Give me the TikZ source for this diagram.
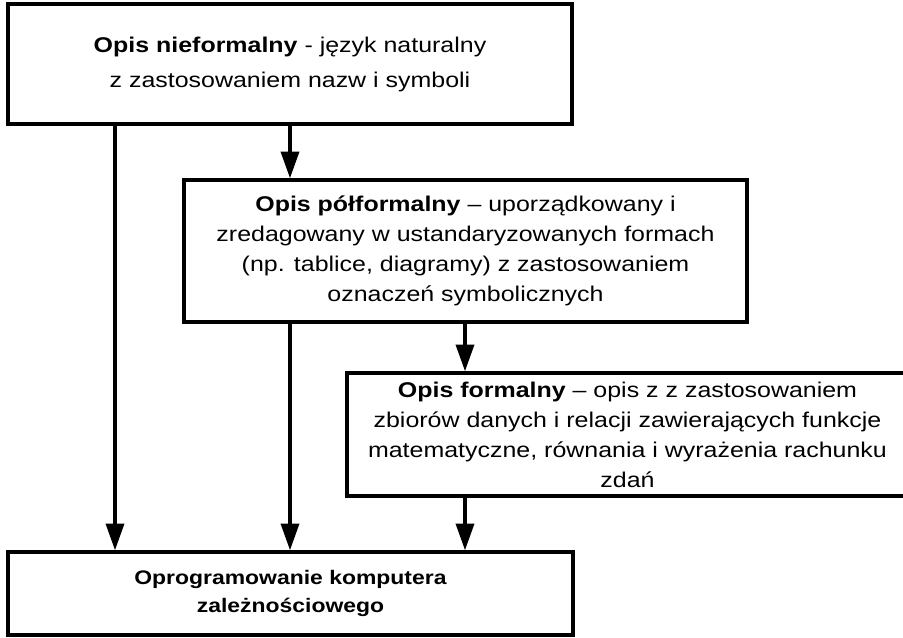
\documentclass[tikz,border=0pt]{standalone}
\usepackage{fontspec}
\setmainfont{Liberation Sans}[FakeStretch=1.17]
\usetikzlibrary{arrows.meta}
\tikzset{
  box/.style={draw=black, line width=2.6pt, fill=white, inner sep=0pt, align=center},
  arr/.style={line width=2.6pt, -{Triangle[length=20pt,width=13.5pt]}},
  tA/.style={font=\fontsize{16pt}{26.25pt}\selectfont},
  tB/.style={font=\fontsize{16pt}{22.5pt}\selectfont},
  tC/.style={font=\fontsize{14.7pt}{21pt}\selectfont}
}
\begin{document}
\begin{tikzpicture}[x=0.75pt,y=-0.75pt]
\path[use as bounding box] (0,0) rectangle (903,637);
\clip (0,0) rectangle (903,637);
\fill[white] (0,0) rectangle (903,637);
\node[box, tA, minimum width=564*0.75pt, minimum height=120*0.75pt] (box1) at (290,64)
  {\textbf{Opis nieformalny} - język naturalny\\z zastosowaniem nazw i symboli};
\node[box, tB, minimum width=563*0.75pt, minimum height=142*0.75pt] (box2) at (465.5,251)
  {\textbf{Opis półformalny} – uporządkowany i\\zredagowany w ustandaryzowanych formach\\(np. tablice, diagramy) z zastosowaniem\\oznaczeń symbolicznych};
\node[box, tB, minimum width=561*0.75pt, minimum height=123*0.75pt] (box3) at (627.5,434.5)
  {\textbf{Opis formalny} – opis z z zastosowaniem\\zbiorów danych i relacji zawierających funkcje\\matematyczne, równania i wyrażenia rachunku\\zdań};
\node[box, tC, minimum width=565*0.75pt, minimum height=83*0.75pt] (box4) at (290.5,593.5)
  {\textbf{Oprogramowanie komputera}\\\textbf{zależnościowego}};
\coordinate (xA) at (115,0);
\coordinate (xB) at (290,0);
\coordinate (xC) at (465,0);
\draw[arr] (box1.south -| xA) -- (box4.north -| xA);
\draw[arr] (box1.south -| xB) -- (box2.north -| xB);
\draw[arr] (box2.south -| xB) -- (box4.north -| xB);
\draw[arr] (box2.south -| xC) -- (box3.north -| xC);
\draw[arr] (box3.south -| xC) -- (box4.north -| xC);
\end{tikzpicture}
\end{document}
